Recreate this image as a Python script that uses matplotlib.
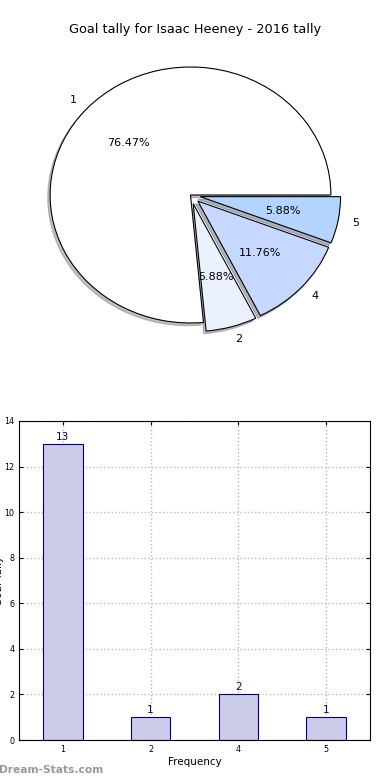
import matplotlib
matplotlib.use("Agg")
import matplotlib.pyplot as plt

labels = ["1", "2", "4", "5"]
counts = [13, 1, 2, 1]
pie_colors = ["#ffffff", "#eaf1ff", "#c6d8ff", "#b3d4ff"]
explode = [0.0, 0.07, 0.07, 0.07]

fig = plt.figure(figsize=(3.9, 7.8), dpi=100)

ax1 = fig.add_axes([15/390, (780-355)/780, 351/390, 320/780])
wedges, texts, autotexts = ax1.pie(counts, labels=labels, colors=pie_colors, explode=explode,
                                   autopct="%1.2f%%",
                                   shadow=dict(ox=-0.012, oy=-0.015, shade=0.5),
                                   startangle=0,
                                   wedgeprops=dict(edgecolor="black", linewidth=0.8),
                                   textprops=dict(fontsize=8))
ax1.set_aspect("auto")
ax1.set_xlim(-1.25, 1.25)
ax1.set_ylim(-1.25, 1.25)
fig.text(0.5, 1 - 30/780, "Goal tally for Isaac Heeney - 2016 tally", ha="center", va="center", fontsize=9.3)

ax2 = fig.add_axes([19/390, 40/780, 351/390, 319/780])
x = list(range(len(labels)))
bars = ax2.bar(x, counts, width=0.45, color="#ccccea", edgecolor="navy", linewidth=0.8, zorder=2)
for xi, c in zip(x, counts):
    ax2.text(xi, c + 0.1, str(c), ha="center", va="bottom", color="navy", fontsize=7.5)
ax2.set_xticks(x)
ax2.set_xticklabels(labels)
ax2.set_xlim(-0.5, 3.5)
ax2.set_ylim(0, 14)
ax2.set_yticks(range(0, 15, 2))
ax2.tick_params(labelsize=5.8, direction="in", length=3, top=True, right=True)
ax2.grid(True, linestyle=":", color="#bbbbbb", linewidth=1)
ax2.set_xlabel("Frequency", fontsize=7.5, labelpad=2)
ax2.set_ylabel("Goal Tally", fontsize=7.5, labelpad=0)

fig.text(-0.002, 10/780, "Dream-Stats.com", color="#999999", fontsize=7.7, fontweight="bold", ha="left", va="center")

fig.savefig("out.png", dpi=100)
